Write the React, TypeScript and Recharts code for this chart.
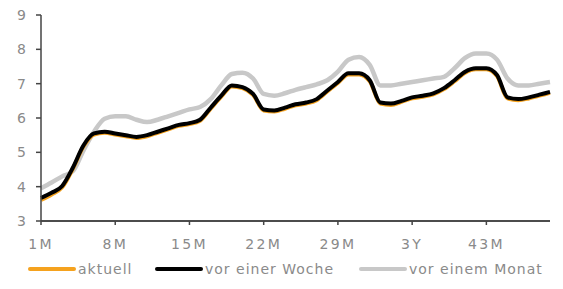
import { LineChart, Line, XAxis, YAxis, Legend } from "recharts"

const months = [
    "1M", "2M", "3M", "4M", "5M", "6M", "7M", "8M", "9M", "10M",
    "11M", "12M", "13M", "14M", "15M", "16M", "17M", "18M", "19M", "20M",
    "21M", "22M", "23M", "24M", "25M", "26M", "27M", "28M", "29M", "30M",
    "31M", "32M", "33M", "34M", "35M", "3Y", "37M", "38M", "39M", "40M",
    "41M", "42M", "43M", "44M", "45M", "46M", "47M", "48M", "49M",
]

const aktuell = [
    3.61, 3.77, 3.98, 4.52, 5.17, 5.52, 5.57, 5.52, 5.47, 5.42,
    5.47, 5.57, 5.67, 5.77, 5.82, 5.92, 6.27, 6.62, 6.92, 6.87,
    6.67, 6.22, 6.19, 6.27, 6.37, 6.42, 6.52, 6.77, 7.02, 7.27,
    7.27, 7.07, 6.42, 6.38, 6.47, 6.57, 6.62, 6.69, 6.84, 7.07,
    7.32, 7.42, 7.42, 7.22, 6.57, 6.52, 6.57, 6.65, 6.73,
]

const vorEinerWoche = [
    3.67, 3.82, 4.02, 4.55, 5.2, 5.55, 5.6, 5.55, 5.5, 5.45,
    5.5, 5.6, 5.7, 5.8, 5.85, 5.95, 6.3, 6.65, 6.95, 6.9,
    6.7, 6.25, 6.22, 6.3, 6.4, 6.45, 6.55, 6.8, 7.05, 7.3,
    7.3, 7.1, 6.45, 6.42, 6.5, 6.6, 6.65, 6.72, 6.87, 7.1,
    7.35, 7.45, 7.45, 7.25, 6.6, 6.55, 6.6, 6.68, 6.76,
]

const vorEinemMonat = [
    3.95, 4.12, 4.3, 4.45, 5.05, 5.6, 5.98, 6.05, 6.05, 5.95,
    5.88, 5.95, 6.05, 6.15, 6.25, 6.32, 6.55, 6.95, 7.28, 7.32,
    7.15, 6.7, 6.65, 6.72, 6.82, 6.9, 6.98, 7.1, 7.35, 7.7,
    7.78, 7.55, 6.95, 6.95, 7.0, 7.05, 7.1, 7.15, 7.2, 7.45,
    7.75, 7.88, 7.88, 7.7, 7.15, 6.95, 6.95, 7.0, 7.05,
]

const yTicks = [3, 4, 5, 6, 7, 8, 9]

const data = months.map((m, i) => ({
    month: m,
    aktuell: aktuell[i],
    woche: vorEinerWoche[i],
    monat: vorEinemMonat[i],
}))

const legendItems = [
    { label: "aktuell", color: "#f5a21e", left: 28 },
    { label: "vor einer Woche", color: "#000000", left: 155 },
    { label: "vor einem Monat", color: "#c8c8c8", left: 359 },
]

const font = "'DejaVu Sans', sans-serif"
const textColor = "#8a8a8a"

function ChartLegend() {
    return (
        <div style={{ position: "relative", height: 36, width: 563 }}>
            {legendItems.map((it) => (
                <div
                    key={it.label}
                    style={{
                        position: "absolute",
                        left: it.left,
                        top: 8,
                        display: "flex",
                        alignItems: "center",
                        fontFamily: font,
                        fontSize: 14,
                        letterSpacing: 1,
                        color: textColor,
                        whiteSpace: "nowrap",
                    }}
                >
                    <span style={{ display: "inline-block", width: 48, height: 4, background: it.color, borderRadius: 2, marginRight: 2 }} />
                    <span>{it.label}</span>
                </div>
            ))}
        </div>
    )
}

export default function App() {
    return (
        <div style={{ position: "absolute", left: 0, top: 0, width: 563, height: 289, background: "#fff" }}>
            <LineChart width={563} height={289} data={data} margin={{ top: 15, right: 13, left: 0, bottom: 0 }}>
                <XAxis
                    dataKey="month"
                    interval={6}
                    height={32}
                    tickSize={4}
                    tickMargin={14}
                    stroke="#111"
                    strokeWidth={1.5}
                    tick={{ fill: textColor, fontSize: 14, fontFamily: font, letterSpacing: 2.3 }}
                    tickLine={{ stroke: "#444" }}
                />
                <YAxis
                    domain={[3, 9]}
                    ticks={yTicks}
                    width={41}
                    tickSize={5}
                    tickMargin={10}
                    stroke="#444"
                    strokeWidth={1.5}
                    tick={{ fill: textColor, fontSize: 14, fontFamily: font }}
                />
                <Legend verticalAlign="bottom" height={36} content={() => <ChartLegend />} />
                <Line type="monotone" dataKey="monat" stroke="#c8c8c8" strokeWidth={4.5} dot={false} isAnimationActive={false} />
                <Line type="monotone" dataKey="aktuell" stroke="#f5a21e" strokeWidth={4} dot={false} isAnimationActive={false} />
                <Line type="monotone" dataKey="woche" stroke="#000" strokeWidth={4} dot={false} isAnimationActive={false} />
            </LineChart>
        </div>
    )
}
